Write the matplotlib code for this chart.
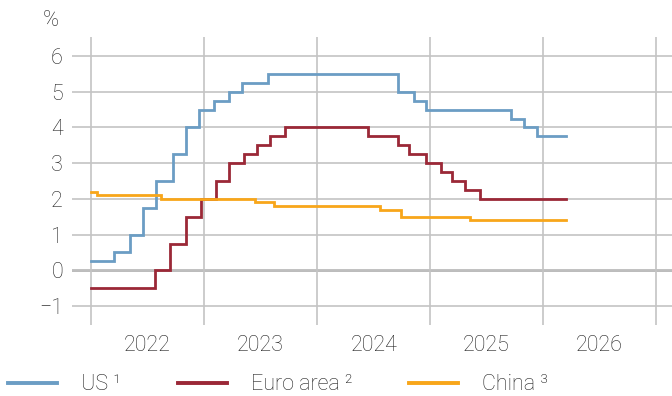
import matplotlib
matplotlib.use("Agg")
import matplotlib.pyplot as plt
import pandas as pd

plt.rcParams['font.family'] = ['Roboto', 'DejaVu Sans']
plt.rcParams['font.weight'] = 'light'

# Policy rate changes (date of change, new level in %)
us_dates = ["2022-01-01", "2022-03-17", "2022-05-05", "2022-06-16", "2022-07-28",
            "2022-09-22", "2022-11-03", "2022-12-15", "2023-02-02", "2023-03-23",
            "2023-05-04", "2023-07-27", "2024-09-19", "2024-11-08", "2024-12-19",
            "2025-09-18", "2025-10-30", "2025-12-11"]
us_rates = [0.25, 0.5, 1.0, 1.75, 2.5, 3.25, 4.0, 4.5, 4.75, 5.0,
            5.25, 5.5, 5.0, 4.75, 4.5, 4.25, 4.0, 3.75]

ea_dates = ["2022-01-01", "2022-07-27", "2022-09-14", "2022-11-02", "2022-12-21",
            "2023-02-08", "2023-03-22", "2023-05-10", "2023-06-21", "2023-08-02",
            "2023-09-20", "2024-06-12", "2024-09-18", "2024-10-23", "2024-12-18",
            "2025-02-05", "2025-03-12", "2025-04-23", "2025-06-11"]
ea_rates = [-0.5, 0.0, 0.75, 1.5, 2.0, 2.5, 3.0, 3.25, 3.5, 3.75,
            4.0, 3.75, 3.5, 3.25, 3.0, 2.75, 2.5, 2.25, 2.0]

cn_dates = ["2022-01-01", "2022-01-20", "2022-08-15", "2023-06-13", "2023-08-15",
            "2024-07-22", "2024-09-27", "2025-05-08"]
cn_rates = [2.2, 2.1, 2.0, 1.9, 1.8, 1.7, 1.5, 1.4]

end_date = "2026-03-15"

series_labels = ["US \u00b9", "Euro area \u00b2", "China \u00b3"]
series_colors = ["#6B9DC4", "#9B2837", "#F8A61A"]

years = [2022, 2023, 2024, 2025, 2026]
y_ticks = [-1, 0, 1, 2, 3, 4, 5, 6]

fs = 15.5
fig = plt.figure(figsize=(6.72, 3.96), dpi=100)
ax = fig.add_axes([72 / 672, 1 - 325 / 396, 600 / 672, 288 / 396])

text_color = "#222222"
grid_color = "#C4C4C4"

for dates, rates, lab, col in zip([us_dates, ea_dates, cn_dates],
                                   [us_rates, ea_rates, cn_rates],
                                   series_labels, series_colors):
    x = pd.to_datetime(dates + [end_date])
    y = rates + [rates[-1]]
    ax.step(x, y, where="post", color=col, lw=2.0, label=lab, zorder=3,
            solid_joinstyle="miter")

ax.set_xlim(pd.Timestamp("2021-10-31"), pd.Timestamp("2027-02-21"))
ax.set_ylim(-1.532, 6.532)

# Year boundaries as gridlines, year labels centred mid-year
ax.set_xticks([pd.Timestamp(f"{y}-01-01") for y in years + [2027]])
ax.set_xticklabels([])
ax.set_xticks([pd.Timestamp(f"{y}-07-02") for y in years], minor=True)
ax.set_xticklabels([str(y) for y in years], minor=True)
ax.tick_params(axis="x", which="both", length=0, pad=7.5, labelsize=fs,
               labelcolor=text_color)

ax.set_yticks(y_ticks)
ax.set_yticklabels(["\u2212" + str(-v) if v < 0 else str(v) for v in y_ticks])
ax.tick_params(axis="y", length=0, pad=6.5, labelsize=fs, labelcolor=text_color)

ax.grid(True, which="major", color=grid_color, lw=1.2, zorder=0)
ax.axhline(0, color="#A6A6A6", lw=1.8, zorder=1)
for s in ax.spines.values():
    s.set_visible(False)

fig.text(51 / 672, 1 - 20 / 396, "%", ha="center", va="center",
         fontsize=fs, color=text_color)

leg = fig.legend(loc="center left", bbox_to_anchor=(8 / 672, 1 - 385 / 396),
                 ncol=3, frameon=False, fontsize=fs, handlelength=2.28,
                 handletextpad=1.12, columnspacing=2.62, borderaxespad=0,
                 borderpad=0, labelcolor=text_color)
for line in leg.get_lines():
    line.set_linewidth(2.8)

fig.savefig("out.png", dpi=100)
